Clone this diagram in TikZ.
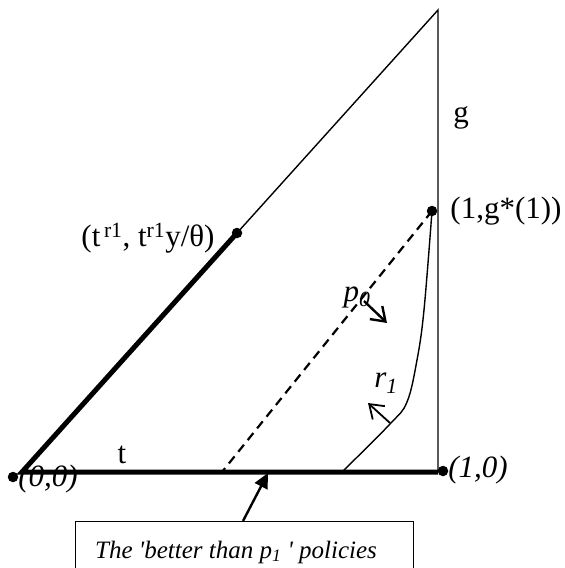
\documentclass[tikz,border=0pt]{standalone}
\usepackage{fontspec}
\setmainfont{Liberation Serif}
\usetikzlibrary{arrows.meta}
\begin{document}
\begin{tikzpicture}[x=1pt,y=-1pt,
  thinline/.style={line width=1.4pt},
  thickline/.style={line width=5pt},
  dotmark/.style={circle,fill,inner sep=0pt,minimum size=10.5pt},
  lbl/.style={font=\fontsize{31}{36}\selectfont, inner sep=0pt},
  ilbl/.style={font=\fontsize{31}{36}\selectfont\itshape, inner sep=0pt},
  barb/.style={-{Straight Barb[length=13pt,width=18pt]}},
  boxfont/.style={font=\fontsize{25}{30}\selectfont\itshape}]
\useasboundingbox (0,0) rectangle (565,568);
\clip (0,0) rectangle (565,568);
% points
\coordinate (O) at (22,472);
\coordinate (E) at (438,472);
\coordinate (A) at (438,10);
\coordinate (T) at (237,233);
\coordinate (D) at (222,472);
% dots
\node[dotmark] (d0) at (13,477) {};
\node[dotmark] (dT) at (237,233) {};
\node[dotmark] (dG) at (432,211) {};
\node[dotmark] (dE) at (443,471) {};
% triangle
\draw[thinline] (T) -- (A) -- (E);
\draw[thickline] (T) -- (O) -- (E);
% dashed policy line
\draw[line width=2.2pt, dash pattern=on 9pt off 6pt] (dG.center) -- (D);
% r1 curve
\draw[thinline] plot[smooth, tension=0.6] coordinates {(343,471) (390,424) (407,402) (417,360) (424,310) (432,211)};
% small arrows
\coordinate (p0s) at (364,301);
\coordinate (p0e) at (387,323);
\draw[barb, line width=2.4pt] (p0s) -- (p0e);
\coordinate (r1s) at (390,423);
\coordinate (r1e) at (368,403);
\draw[barb, line width=1.8pt] (r1s) -- (r1e);
% labels
\node[lbl] (lT) at (148,238) {(t\textsuperscript{\,r1}, t\textsuperscript{r1}y/θ)};
\node[lbl] (lG) at (506,211) {(1,g*(1))};
\node[lbl] (lg) at (461,118) {g};
\node[lbl] (lt) at (122,455) {t};
\node[ilbl] (l00) at (48,479) {(0,0)};
\node[ilbl] (l10) at (478,470) {(1,0)};
\node[ilbl] (lp0) at (357,297) {p\textsubscript{0}};
\node[ilbl] (lr1) at (386,383) {r\textsubscript{1}};
% box
\node[draw, thinline, anchor=north west, minimum width=338pt, minimum height=62pt,
      inner sep=0pt] (box) at (75,521) {};
\node[boxfont, anchor=west, inner sep=0pt] (boxtext) at (95,552)
      {\mbox{The \textquotesingle better than p\textsubscript{1} \textquotesingle\ policies}};
\coordinate (bs) at (243,521);
\coordinate (bt) at (268,473);
\draw[line width=2.4pt, -{Triangle[length=15pt,width=14pt]}] (bs) -- (bt);
\end{tikzpicture}
\end{document}
